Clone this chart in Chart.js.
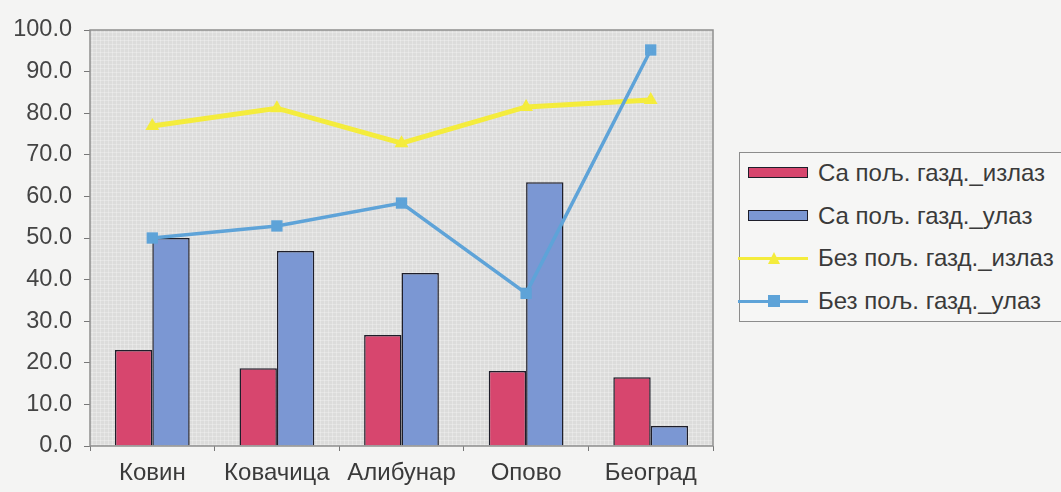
<!DOCTYPE html>
<html>
<head>
<meta charset="utf-8">
<script src="https://cdn.jsdelivr.net/npm/chart.js@4.4.0/dist/chart.umd.min.js"></script>
<style>
  html,body{margin:0;padding:0;background:#f4f4f3;}
  #wrap{position:relative;width:1061px;height:492px;}
  canvas{position:absolute;left:0;top:0;}
  #legend{position:absolute;left:739px;top:152px;width:340px;height:170px;border:1.5px solid #8c8c8c;background:#f6f6f5;box-sizing:border-box;font-family:"Liberation Sans",Arial,sans-serif;font-size:24px;color:#3a3a3a;}
  .item{position:absolute;left:6px;height:26px;display:flex;align-items:center;white-space:nowrap;}
  .sw{width:62px;height:26px;position:relative;margin-right:10px;flex:none;}
  .bar{position:absolute;left:2px;right:0;top:7px;height:11px;border:1.5px solid #1e1e2a;box-sizing:border-box;}
  .ln{position:absolute;left:-8px;right:0;top:12px;height:3px;}
  .mk{position:absolute;left:22px;top:7px;width:12px;height:12px;}
</style>
</head>
<body>
<div id="wrap">
<canvas id="c" width="1061" height="492"></canvas>
<div id="legend"></div>
</div>
<script>
const categories = ["Ковин", "Ковачица", "Алибунар", "Опово", "Београд"];
const saIzlaz = [23.1, 18.7, 26.7, 18.0, 16.5];
const saUlaz = [50.0, 46.9, 41.6, 63.4, 4.8];
const bezIzlaz = [76.9, 81.2, 72.8, 81.5, 83.2];
const bezUlaz = [50.0, 52.9, 58.4, 36.7, 95.2];
const seriesNames = ["Са пољ. газд._излаз", "Са пољ. газд._улаз", "Без пољ. газд._излаз", "Без пољ. газд._улаз"];
const yTicks = [0, 10, 20, 30, 40, 50, 60, 70, 80, 90, 100];

const cRed = "#d7466e", cBlue = "#7b97d3", cYellow = "#f4ec3c", cLine = "#5ea3d8";

const plotBg = {
  id: "plotBg",
  beforeDraw(chart) {
    const a = chart.chartArea, ctx = chart.ctx;
    ctx.save();
    ctx.fillStyle = "#dcdcdb";
    ctx.fillRect(a.left, a.top, a.right - a.left, a.bottom - a.top);
    ctx.strokeStyle = "rgba(255,255,255,0.25)";
    ctx.lineWidth = 1;
    ctx.beginPath();
    for (let x = a.left + 2; x < a.right; x += 4) { ctx.moveTo(x + 0.5, a.top); ctx.lineTo(x + 0.5, a.bottom); }
    for (let y = a.top + 2; y < a.bottom; y += 4) { ctx.moveTo(a.left, y + 0.5); ctx.lineTo(a.right, y + 0.5); }
    ctx.stroke();
    ctx.restore();
  },
  afterDatasetsDraw(chart) {
    const a = chart.chartArea, ctx = chart.ctx;
    ctx.save();
    ctx.strokeStyle = "#8e8e8e";
    ctx.lineWidth = 1.5;
    ctx.strokeRect(a.left, a.top, a.right - a.left, a.bottom - a.top);
    ctx.restore();
  }
};

new Chart(document.getElementById("c"), {
  type: "bar",
  data: {
    labels: categories,
    datasets: [
      { type: "line", label: seriesNames[2], data: bezIzlaz, borderColor: cYellow, backgroundColor: cYellow, borderWidth: 5, pointStyle: "triangle", pointRadius: 8, pointBorderWidth: 0, tension: 0, order: 1 },
      { type: "line", label: seriesNames[3], data: bezUlaz, borderColor: cLine, backgroundColor: cLine, borderWidth: 3.5, pointStyle: "rect", pointRadius: 8, pointBorderWidth: 0, tension: 0, order: 0 },
      { label: seriesNames[0], data: saIzlaz, backgroundColor: cRed, borderColor: "#1e1e2a", borderWidth: 1.5, order: 2, categoryPercentage: 0.6, barPercentage: 1.0 },
      { label: seriesNames[1], data: saUlaz, backgroundColor: cBlue, borderColor: "#1e1e2a", borderWidth: 1.5, order: 2, categoryPercentage: 0.6, barPercentage: 1.0 }
    ]
  },
  options: {
    responsive: false,
    animation: false,
    layout: { padding: { left: 0, right: 348, top: 30, bottom: 0 } },
    plugins: { legend: { display: false }, tooltip: { enabled: false } },
    scales: {
      x: {
        offset: true,
        grid: { offset: true, drawOnChartArea: false, tickLength: 5, color: "#777", tickColor: "#777" },
        border: { display: false },
        ticks: { color: "#3a3a3a", font: { family: "Liberation Sans", size: 24 }, padding: 8, maxRotation: 0, autoSkip: false },
        afterFit(s) { s.height = 46; }
      },
      y: {
        min: 0, max: 100,
        afterBuildTicks(s) { s.ticks = yTicks.map(v => ({ value: v })); },
        grid: { drawOnChartArea: false, tickLength: 6, color: "#777", tickColor: "#777" },
        border: { display: false },
        ticks: { color: "#444", font: { family: "Liberation Sans", size: 23.5 }, padding: 12, callback: v => Number(v).toFixed(1) },
        afterFit(s) { s.width = 90; }
      }
    }
  },
  plugins: [plotBg]
});

// HTML legend built from series names
const lg = document.getElementById("legend");
const styles = [
  { kind: "bar", color: cRed },
  { kind: "bar", color: cBlue },
  { kind: "line", color: cYellow, marker: "tri" },
  { kind: "line", color: cLine, marker: "sq" }
];
const tops = [7, 50, 92, 135];
seriesNames.forEach((name, i) => {
  const it = document.createElement("div");
  it.className = "item";
  it.style.top = tops[i] + "px";
  const sw = document.createElement("div");
  sw.className = "sw";
  const st = styles[i];
  if (st.kind === "bar") {
    const b = document.createElement("div");
    b.className = "bar"; b.style.background = st.color;
    sw.appendChild(b);
  } else {
    const l = document.createElement("div");
    l.className = "ln"; l.style.background = st.color;
    sw.appendChild(l);
    const m = document.createElement("div");
    m.className = "mk"; m.style.background = st.color;
    if (st.marker === "tri") m.style.clipPath = "polygon(50% 0,100% 100%,0 100%)";
    sw.appendChild(m);
  }
  it.appendChild(sw);
  const t = document.createElement("span");
  t.textContent = name;
  it.appendChild(t);
  lg.appendChild(it);
});
</script>
</body>
</html>
